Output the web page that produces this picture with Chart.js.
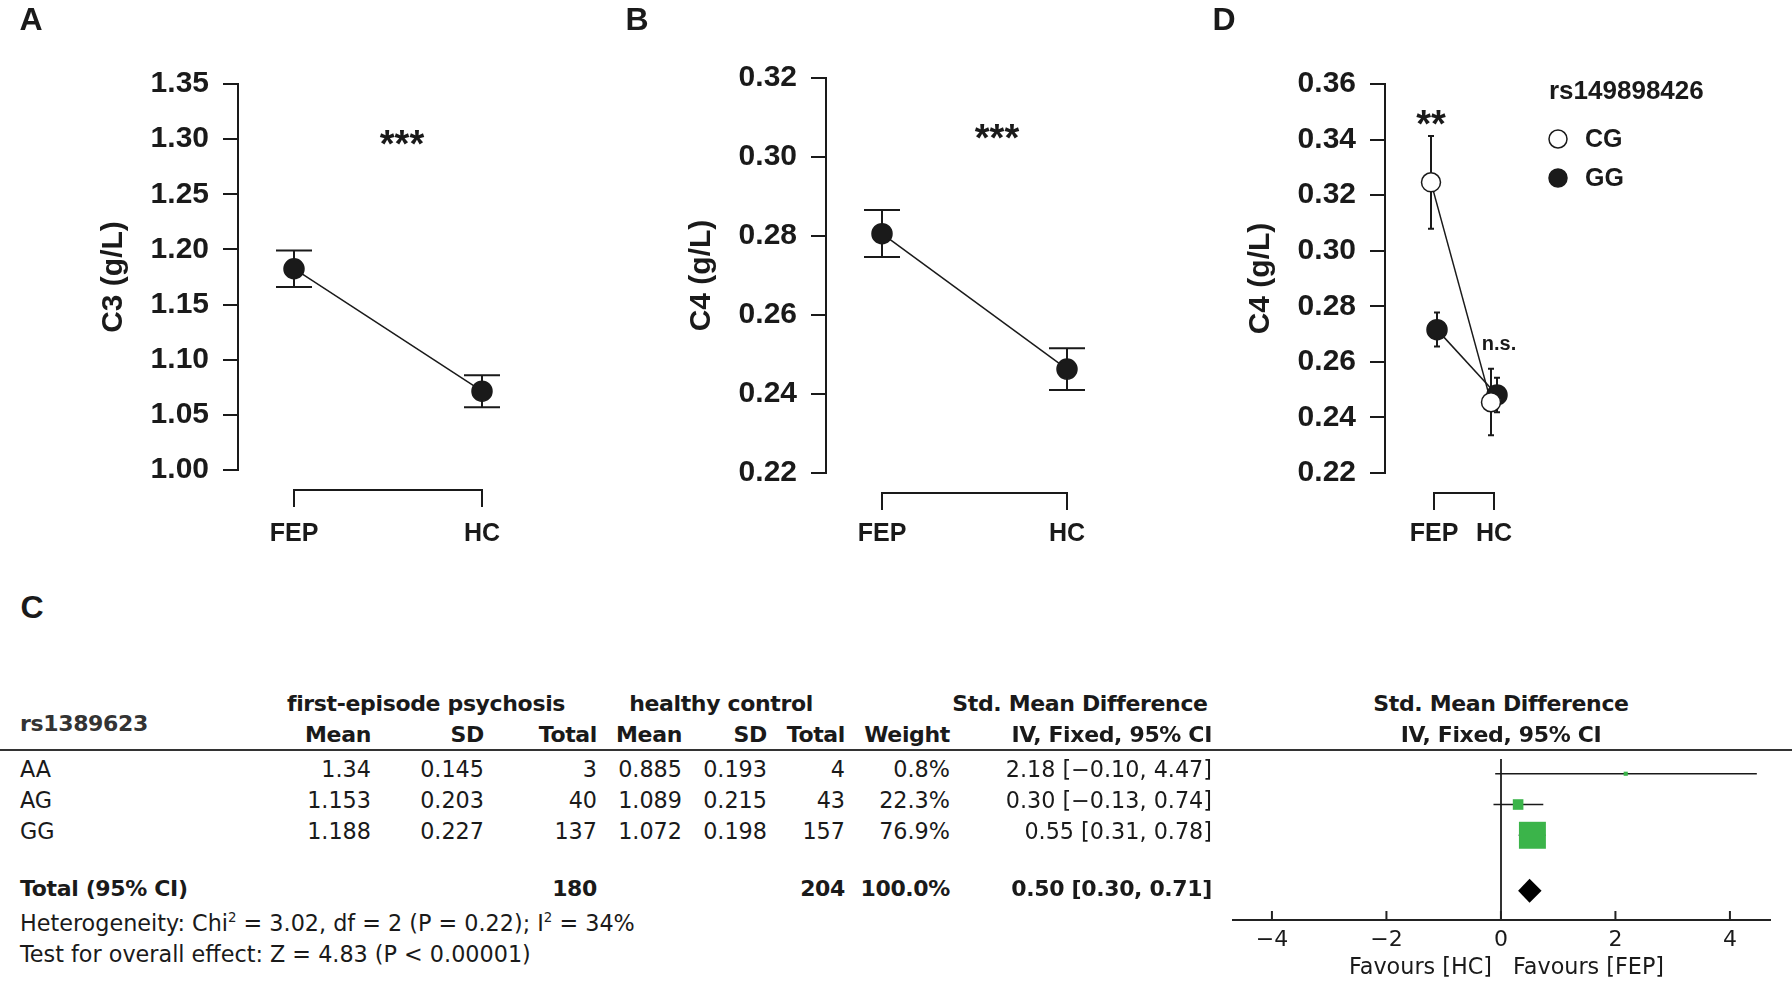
<!DOCTYPE html>
<html lang="en">
<head>
<meta charset="UTF-8">
<title>Complement C3 / C4 and rs1389623 meta-analysis</title>
<script src="https://cdn.jsdelivr.net/npm/chart.js@4.4.1/dist/chart.umd.min.js"></script>
<style>
  body { margin: 0; background: #fff; }
  #fig { position: relative; width: 1792px; height: 996px; overflow: hidden; color: #1a1a1a; }
  #fig canvas { position: absolute; }
  .t { position: absolute; white-space: nowrap; line-height: 1.2; }
  .arial { font-family: "Liberation Sans", Arial, sans-serif; font-weight: bold; }
  .rev { font-family: "DejaVu Sans", sans-serif; font-size: 22.3px; }
  .b { font-weight: bold; font-size: 22px; letter-spacing: -0.35px; }
  .rule { position: absolute; left: 0; top: 749px; width: 1792px; height: 2px; background: #333; }
  sup { font-size: 60%; line-height: 0; }
</style>
</head>
<body>
<div id="fig">
  <div class="rule"></div>
  <canvas id="chartA" width="560" height="570" style="left:0;top:0"></canvas>
  <canvas id="chartB" width="560" height="573" style="left:588px;top:0"></canvas>
  <canvas id="chartD" width="645" height="573" style="left:1147px;top:0"></canvas>
  <canvas id="forest" width="592" height="256" style="left:1200px;top:740px"></canvas>
</div>
<script>
// ---- panel A / B / D : group means with error bars ----
const groups = ['FEP', 'HC'];

const c3Mean  = [1.1825, 1.0715];
const c3Lower = [1.166, 1.057];
const c3Upper = [1.199, 1.086];
const c3Ticks = [1.00, 1.05, 1.10, 1.15, 1.20, 1.25, 1.30, 1.35];

const c4Mean  = [0.2806, 0.2463];
const c4Lower = [0.2747, 0.2410];
const c4Upper = [0.2866, 0.2516];
const c4Ticks = [0.22, 0.24, 0.26, 0.28, 0.30, 0.32];

const genoLegendTitle = 'rs149898426';
const cgMean  = [0.3246, 0.2455];
const cgLower = [0.3079, 0.2336];
const cgUpper = [0.3413, 0.2575];
const ggMean  = [0.2716, 0.2481];
const ggLower = [0.2655, 0.2419];
const ggUpper = [0.2778, 0.2543];
const c4GenoTicks = [0.22, 0.24, 0.26, 0.28, 0.30, 0.32, 0.34, 0.36];

// ---- panel C : forest plot table ----
const snpName   = 'rs1389623';
const genotypes = ['AA', 'AG', 'GG'];
const fepMean   = [1.34, 1.153, 1.188];
const fepSd     = [0.145, 0.203, 0.227];
const fepN      = [3, 40, 137];
const hcMean    = [0.885, 1.089, 1.072];
const hcSd      = [0.193, 0.215, 0.198];
const hcN       = [4, 43, 157];
const weights   = [0.8, 22.3, 76.9];
const smd       = [2.18, 0.30, 0.55];
const ciLow     = [-0.10, -0.13, 0.31];
const ciHigh    = [4.47, 0.74, 0.78];
const totalSmd  = [0.50, 0.30, 0.71];   // estimate, low, high
const smdTicks  = [-4, -2, 0, 2, 4];
const heteroText = 'Heterogeneity: Chi<sup>2</sup> = 3.02, df = 2 (P = 0.22); I<sup>2</sup> = 34%';
const overallText = 'Test for overall effect: Z = 4.83 (P &lt; 0.00001)';

const INK = '#1a1a1a';
const GREEN = '#3bb44a';
const ARIAL = '"Liberation Sans", Arial, sans-serif';
const REV = '"DejaVu Sans", sans-serif';
const AXIS_W = 238;

const fig = document.getElementById('fig');
function put(html, x, y, cls, align) {
  const d = document.createElement('div');
  d.className = 't ' + cls;
  d.innerHTML = html;
  d.style.top = y + 'px';
  if (align === 'right') {
    d.style.right = (1792 - x) + 'px';
    d.style.transform = 'translateY(-50%)';
  } else if (align === 'center') {
    d.style.left = x + 'px';
    d.style.transform = 'translate(-50%, -50%)';
  } else {
    d.style.left = x + 'px';
    d.style.transform = 'translateY(-50%)';
  }
  fig.appendChild(d);
  return d;
}

const errorBarPlugin = {
  id: 'errorBars',
  beforeDatasetsDraw(chart, args, opts) {
    const { ctx, scales: { y } } = chart;
    ctx.save();
    ctx.strokeStyle = INK;
    ctx.lineWidth = 2;
    chart.data.datasets.forEach((ds, di) => {
      chart.getDatasetMeta(di).data.forEach((pt, i) => {
        const lo = y.getPixelForValue(ds.lower[i]);
        const hi = y.getPixelForValue(ds.upper[i]);
        ctx.beginPath();
        ctx.moveTo(pt.x, lo); ctx.lineTo(pt.x, hi);
        ctx.moveTo(pt.x - opts.cap, lo); ctx.lineTo(pt.x + opts.cap, lo);
        ctx.moveTo(pt.x - opts.cap, hi); ctx.lineTo(pt.x + opts.cap, hi);
        ctx.stroke();
      });
    });
    ctx.restore();
  }
};

// R-style x axis: a bracket from FEP to HC under the plot
const bracketPlugin = {
  id: 'bracket',
  afterDraw(chart) {
    const { ctx, chartArea, scales: { x } } = chart;
    const x1 = x.getPixelForValue(1), x2 = x.getPixelForValue(2);
    const y0 = chartArea.bottom + 20, y1 = chartArea.bottom + 37;
    ctx.save();
    ctx.strokeStyle = INK;
    ctx.lineWidth = 2;
    ctx.beginPath();
    ctx.moveTo(x1, y1); ctx.lineTo(x1, y0); ctx.lineTo(x2, y0); ctx.lineTo(x2, y1);
    ctx.stroke();
    ctx.restore();
  }
};

const genoLegendPlugin = {
  id: 'genoLegend',
  afterDraw(chart, args, opts) {
    if (!opts.title) return;
    const { ctx } = chart;
    ctx.save();
    ctx.textBaseline = 'middle';
    ctx.textAlign = 'left';
    ctx.fillStyle = INK;
    ctx.font = 'bold 26px ' + ARIAL;
    ctx.fillText(opts.title, opts.x, opts.y);
    chart.data.datasets.forEach((ds, i) => {
      const cy = opts.y + 47 + i * 39;
      ctx.beginPath();
      ctx.arc(opts.x + 9, cy, 9, 0, Math.PI * 2);
      ctx.fillStyle = ds.pointBackgroundColor;
      ctx.fill();
      ctx.lineWidth = 1.5;
      ctx.strokeStyle = INK;
      ctx.stroke();
      ctx.fillStyle = INK;
      ctx.font = 'bold 25px ' + ARIAL;
      ctx.fillText(ds.label, opts.x + 36, cy + 1);
    });
    ctx.restore();
  }
};

function meanSeries(label, mean, lower, upper, dx, fill) {
  return {
    label: label,
    data: mean.map((v, i) => ({ x: i + 1 + dx, y: v })),
    lower: lower,
    upper: upper,
    borderColor: INK,
    borderWidth: 1.5,
    pointRadius: fill === INK ? 10 : 9.5,
    pointBackgroundColor: fill,
    pointBorderColor: INK,
    pointBorderWidth: 1.5,
    tension: 0
  };
}

function panelChart(id, cfg) {
  const canvas = document.getElementById(id);
  const W = canvas.width, H = canvas.height;
  const xMin = 1 - cfg.lead / cfg.unit;
  const xMax = xMin + (W - AXIS_W - 20) / cfg.unit;
  return new Chart(canvas, {
    type: 'line',
    data: { datasets: cfg.datasets },
    options: {
      responsive: false,
      animation: false,
      layout: { padding: { top: cfg.top, right: 20, bottom: 0, left: 0 } },
      plugins: {
        legend: { display: false },
        tooltip: { enabled: false },
        errorBars: { cap: cfg.cap },
        genoLegend: cfg.legend || {}
      },
      scales: {
        x: {
          type: 'linear', min: xMin, max: xMax,
          border: { display: false },
          grid: { display: false, drawTicks: false },
          afterBuildTicks: s => { s.ticks = groups.map((g, i) => ({ value: i + 1 })); },
          afterFit: s => { s.height = H - cfg.bottom; },
          ticks: {
            padding: 534 - cfg.bottom - 15, color: INK, maxRotation: 0, autoSkip: false,
            font: { family: ARIAL, size: 25, weight: 'bold' },
            callback: v => groups[Math.round(v) - 1]
          }
        },
        y: {
          min: cfg.ticks[0], max: cfg.ticks[cfg.ticks.length - 1],
          border: { display: true, color: INK, width: 2 },
          grid: { drawOnChartArea: false, drawTicks: true, tickLength: 15, color: INK, lineWidth: 2 },
          afterBuildTicks: s => { s.ticks = cfg.ticks.map(v => ({ value: v })); },
          afterFit: s => { s.width = AXIS_W; },
          ticks: {
            padding: 14, color: INK,
            font: { family: ARIAL, size: 30, weight: 'bold' },
            callback: v => v.toFixed(2)
          },
          title: {
            display: true, text: cfg.title, color: INK,
            font: { family: ARIAL, size: 30, weight: 'bold' },
            padding: { top: 96, bottom: 0 }
          }
        }
      }
    },
    plugins: [errorBarPlugin, bracketPlugin, genoLegendPlugin]
  });
}

panelChart('chartA', {
  datasets: [meanSeries('C3', c3Mean, c3Lower, c3Upper, 0, INK)],
  ticks: c3Ticks, title: 'C3 (g/L)', top: 84, bottom: 470, lead: 56, unit: 188, cap: 18
});
panelChart('chartB', {
  datasets: [meanSeries('C4', c4Mean, c4Lower, c4Upper, 0, INK)],
  ticks: c4Ticks, title: 'C4 (g/L)', top: 78, bottom: 473, lead: 56, unit: 185, cap: 18
});
panelChart('chartD', {
  datasets: [
    meanSeries('CG', cgMean, cgLower, cgUpper, -0.05, '#ffffff'),
    meanSeries('GG', ggMean, ggLower, ggUpper, 0.05, INK)
  ],
  ticks: c4GenoTicks, title: 'C4 (g/L)', top: 84, bottom: 473, lead: 49, unit: 60, cap: 3,
  legend: { title: genoLegendTitle, x: 402, y: 92 }
});

// ---- forest plot ----
const TOTAL_ROW = 4.8;
const forestPlugin = {
  id: 'forestMarks',
  beforeDatasetsDraw(chart) {
    const { ctx, scales: { x, y } } = chart;
    ctx.save();
    ctx.strokeStyle = INK;
    ctx.lineWidth = 1.5;
    smd.forEach((v, i) => {
      const py = y.getPixelForValue(i + 1);
      ctx.beginPath();
      ctx.moveTo(x.getPixelForValue(ciLow[i]), py);
      ctx.lineTo(x.getPixelForValue(ciHigh[i]), py);
      ctx.stroke();
    });
    ctx.restore();
  },
  afterDatasetsDraw(chart) {
    const { ctx, chartArea, scales: { x, y } } = chart;
    const py = y.getPixelForValue(TOTAL_ROW);
    ctx.save();
    ctx.fillStyle = '#000';
    ctx.beginPath();
    ctx.moveTo(x.getPixelForValue(totalSmd[1]), py);
    ctx.lineTo(x.getPixelForValue(totalSmd[0]), py - 12);
    ctx.lineTo(x.getPixelForValue(totalSmd[2]), py);
    ctx.lineTo(x.getPixelForValue(totalSmd[0]), py + 12);
    ctx.closePath();
    ctx.fill();
    ctx.strokeStyle = '#222';
    ctx.lineWidth = 2;
    x.ticks.forEach(t => {
      const px = x.getPixelForValue(t.value);
      ctx.beginPath();
      ctx.moveTo(px, chartArea.bottom - 9);
      ctx.lineTo(px, chartArea.bottom);
      ctx.stroke();
    });
    ctx.restore();
  }
};

new Chart(document.getElementById('forest'), {
  type: 'scatter',
  data: {
    datasets: [{
      label: 'Std. Mean Difference',
      data: smd.map((v, i) => ({ x: v, y: i + 1 })),
      pointStyle: 'rect',
      pointRadius: weights.map(w => (3.9 + 0.3 * w) / Math.SQRT2),
      pointBackgroundColor: GREEN,
      pointBorderWidth: 0
    }]
  },
  options: {
    responsive: false,
    animation: false,
    layout: { padding: { top: 10, right: 22, bottom: 0, left: 33 } },
    plugins: { legend: { display: false }, tooltip: { enabled: false } },
    scales: {
      x: {
        type: 'linear', min: -4.68, max: 4.70,
        border: { display: true, color: '#222', width: 2 },
        grid: {
          drawOnChartArea: true, drawTicks: false, lineWidth: 2,
          color: c => (c.tick && c.tick.value === 0) ? '#333' : 'rgba(0,0,0,0)'
        },
        afterBuildTicks: s => { s.ticks = smdTicks.map(v => ({ value: v })); },
        afterFit: s => { s.height = 76; },
        ticks: {
          padding: 7, color: INK, maxRotation: 0, autoSkip: false,
          font: { family: REV, size: 22 },
          callback: v => v < 0 ? '\u2212' + Math.abs(v) : String(v)
        }
      },
      y: { display: false, reverse: true, min: 0.523, max: 5.754 }
    }
  },
  plugins: [forestPlugin]
});

// ---- text: panel letters, significance marks ----
put('A', 31, 19, 'arial', 'center').style.fontSize = '32px';
put('B', 637, 19, 'arial', 'center').style.fontSize = '32px';
put('C', 32, 607, 'arial', 'center').style.fontSize = '32px';
put('D', 1224, 19, 'arial', 'center').style.fontSize = '32px';
put('***', 402, 145, 'arial', 'center').style.fontSize = '38px';
put('***', 997, 139, 'arial', 'center').style.fontSize = '38px';
put('**', 1431, 125, 'arial', 'center').style.fontSize = '38px';
put('n.s.', 1499, 343, 'arial', 'center').style.fontSize = '20px';

// ---- text: forest table ----
const colRight = [371, 484, 597, 682, 767, 845, 950, 1212];
const rowTextY = [769, 800, 831];
const fmt = v => v.toFixed(2).replace('-', '\u2212');

put('first-episode psychosis', 426, 704, 'rev b', 'center');
put('healthy control', 721, 704, 'rev b', 'center');
put('Std. Mean Difference', 1080, 704, 'rev b', 'center');
put('Std. Mean Difference', 1501, 704, 'rev b', 'center');
put(snpName, 20, 724, 'rev b', 'left').style.color = '#333';
['Mean', 'SD', 'Total', 'Mean', 'SD', 'Total', 'Weight', 'IV, Fixed, 95% CI']
  .forEach((h, c) => put(h, colRight[c], 735, 'rev b', 'right'));
put('IV, Fixed, 95% CI', 1501, 735, 'rev b', 'center');

genotypes.forEach((g, i) => {
  const y = rowTextY[i];
  put(g, 20, y, 'rev', 'left');
  const cells = [
    String(fepMean[i]), String(fepSd[i]), String(fepN[i]),
    String(hcMean[i]), String(hcSd[i]), String(hcN[i]),
    weights[i].toFixed(1) + '%',
    smd[i].toFixed(2) + ' [' + fmt(ciLow[i]) + ', ' + fmt(ciHigh[i]) + ']'
  ];
  cells.forEach((s, c) => put(s, colRight[c], y, 'rev', 'right'));
});

const sum = a => a.reduce((p, v) => p + v, 0);
put('Total (95% CI)', 20, 889, 'rev b', 'left');
put(String(sum(fepN)), colRight[2], 889, 'rev b', 'right');
put(String(sum(hcN)), colRight[5], 889, 'rev b', 'right');
put(sum(weights).toFixed(1) + '%', colRight[6], 889, 'rev b', 'right');
put(fmt(totalSmd[0]) + ' [' + fmt(totalSmd[1]) + ', ' + fmt(totalSmd[2]) + ']', colRight[7], 889, 'rev b', 'right');
put(heteroText, 20, 923, 'rev', 'left');
put(overallText, 20, 954, 'rev', 'left');
put('Favours [HC]', 1492, 966, 'rev', 'right');
put('Favours [FEP]', 1513, 966, 'rev', 'left');
</script>
</body>
</html>
